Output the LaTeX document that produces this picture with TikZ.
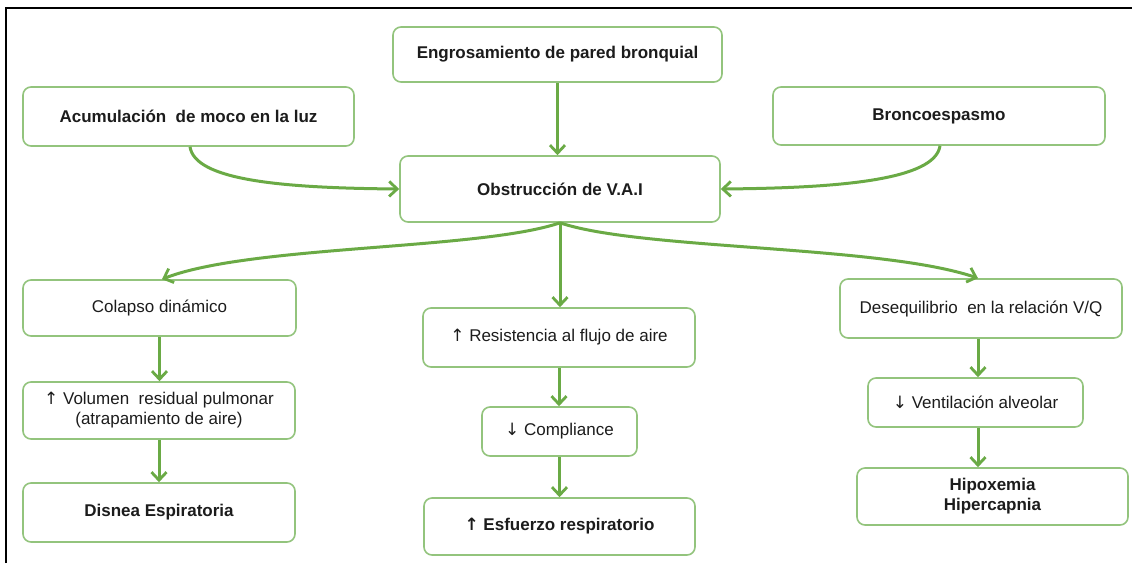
\documentclass[tikz,border=0pt]{standalone}
\usepackage{fontspec}
\setmainfont{Liberation Sans}
\newfontfamily\arrowfont{DejaVu Sans}
\newcommand{\upar}{{\arrowfont ↑}}
\newcommand{\dnar}{{\arrowfont ↓}}
\usetikzlibrary{arrows.meta}
\definecolor{boxgreen}{HTML}{93C47D}
\definecolor{arrgreen}{HTML}{6AAA45}
\definecolor{txt}{HTML}{1C1C1C}
\tikzset{
  box/.style={draw=boxgreen, line width=1.6pt, rounded corners=8pt, fill=white,
    inner sep=0pt, align=center, text=txt,
    font=\fontsize{17}{20}\selectfont},
  boldbox/.style={box, font=\fontsize{17}{20}\selectfont\bfseries},
  arr/.style={draw=arrgreen, line width=3pt,
    -{Straight Barb[length=8pt,width=15pt,line width=2.8pt]}},
}
\begin{document}
\begin{tikzpicture}[x=1pt,y=-1pt]
\useasboundingbox (0,0) rectangle (1132,563);
\fill[white] (0,0) rectangle (1132,563);
\draw[black, line width=2pt] (6,563) -- (6,8) -- (1132,8);

\node[boldbox, minimum width=329pt, minimum height=55pt] (eng) at (557.5,54.5) {Engrosamiento de pared bronquial};
\node[boldbox, minimum width=331pt, minimum height=59pt] (acu) at (188.5,116.5) {Acumulación\ \ de moco en la luz};
\node[boldbox, minimum width=332pt, minimum height=58pt] (bron) at (939,116) {Broncoespasmo};
\node[boldbox, minimum width=320pt, minimum height=66pt] (obs) at (560,189) {Obstrucción de V.A.I};

\node[box, minimum width=273pt, minimum height=56pt] (col) at (159.5,308) {Colapso dinámico};
\node[box, minimum width=272pt, minimum height=57pt] (vol) at (159,410.5) {\upar{} Volumen\ \ residual pulmonar\\(atrapamiento de aire)};
\node[boldbox, minimum width=272pt, minimum height=59pt] (dis) at (159,512.5) {Disnea Espiratoria};

\node[box, minimum width=272pt, minimum height=59pt] (res) at (559,337.5) {\upar{} Resistencia al flujo de aire};
\node[box, minimum width=155pt, minimum height=49pt] (com) at (559.5,431.5) {\dnar{} Compliance};
\node[boldbox, minimum width=271pt, minimum height=57pt] (esf) at (559.5,526.5) {\upar{} Esfuerzo respiratorio};

\node[box, minimum width=282pt, minimum height=59pt] (des) at (981,308.5) {Desequilibrio\ \ en la relación V/Q};
\node[box, minimum width=215pt, minimum height=49pt] (ven) at (975.5,402.5) {\dnar{} Ventilación alveolar};
\node[boldbox, minimum width=271pt, minimum height=57pt] (hip) at (992.5,496.5) {Hipoxemia\\Hipercapnia};

% top arrows
\draw[arr] (eng.south) -- (eng.south |- obs.north);
\draw[arr] ([xshift=1.5pt]acu.south) .. controls (195,180) and (280,188) .. (obs.west);
\draw[arr] ([xshift=1pt]bron.south) .. controls (935,180) and (840,188) .. (obs.east);

% branches
\draw[arr] (obs.south) .. controls (480,250) and (250,245) .. ([xshift=2.5pt]col.north);
\draw[arr] (obs.south) -- (obs.south |- res.north);
\draw[arr] (obs.south) .. controls (640,250) and (880,245) .. ([xshift=-3pt]des.north);

% left column
\draw[arr] (col.south) -- (col.south |- vol.north);
\draw[arr] (vol.south) -- (vol.south |- dis.north);
% middle column
\draw[arr] (res.south) -- (res.south |- com.north);
\draw[arr] (com.south) -- (com.south |- esf.north);
% right column
\draw[arr] ([xshift=-3pt]des.south) -- ([xshift=-3pt]des.south |- ven.north);
\draw[arr] ([xshift=-3pt]des.south |- ven.south) -- ([xshift=-3pt]des.south |- hip.north);
\end{tikzpicture}
\end{document}
